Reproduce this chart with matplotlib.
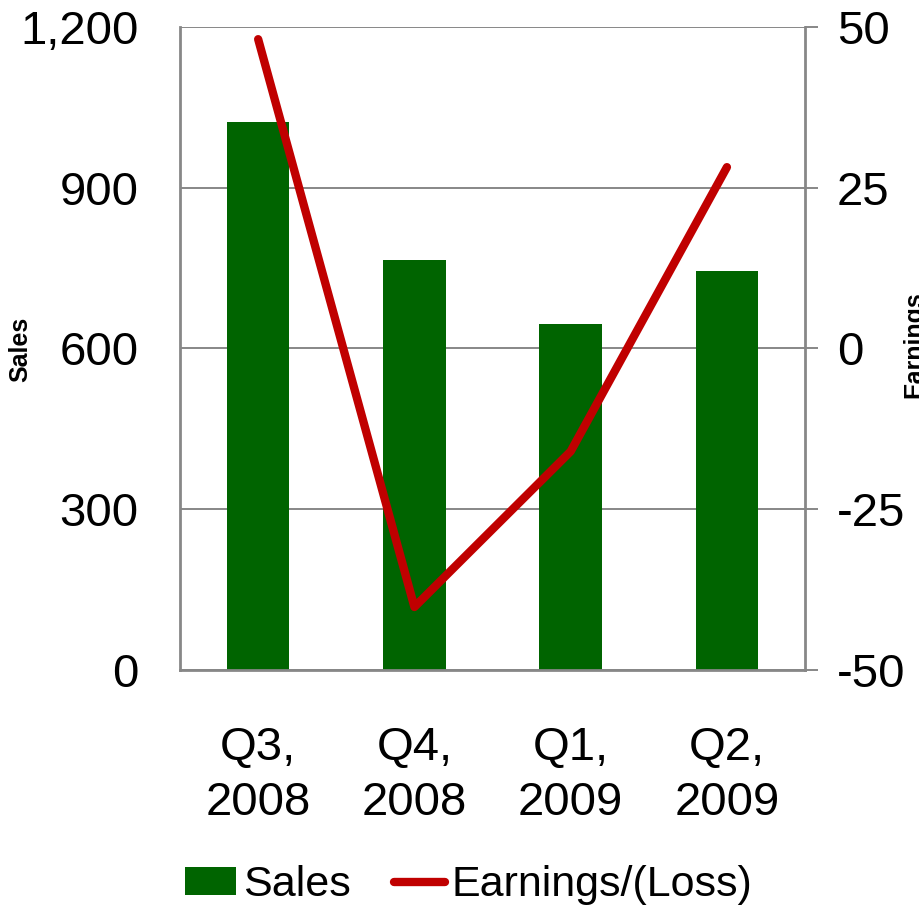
import numpy as np
import matplotlib.pyplot as plt

plt.rcParams['font.family'] = ['Liberation Sans', 'DejaVu Sans']
plt.rcParams['axes.unicode_minus'] = False

quarters = ["Q3,\n2008", "Q4,\n2008", "Q1,\n2009", "Q2,\n2009"]
sales = [1022, 766, 645, 744]
earnings = [48.1, -40.2, -16.0, 28.2]
sales_ticks = [0, 300, 600, 900, 1200]
sales_labels = ["0", "300", "600", "900", "1,200"]
earn_ticks = [-50, -25, 0, 25, 50]

green = "#006400"
red = "#C00000"
grey = "#878787"

fig = plt.figure(figsize=(9.19, 9.08), dpi=100)
ax = fig.add_axes([0.1959, 0.2621, 0.6801, 0.7082])
x = np.arange(len(quarters))

ax.bar(x, sales, width=0.4, color=green, zorder=2, label="Sales")
ax.set_xlim(-0.5, len(quarters) - 0.5)
ax.set_ylim(0, 1200)
ax.set_yticks(sales_ticks)
ax.set_yticklabels(sales_labels)
ax.set_xticks(x)
ax.set_xticklabels(quarters, linespacing=1.33)
ax.tick_params(axis="y", length=0, pad=30, labelsize=34)
ax.tick_params(axis="x", length=0, pad=40, labelsize=34)
ax.grid(axis="y", color=grey, linewidth=1.4, zorder=0)
ax.set_axisbelow(True)
for side in ["top", "right"]:
    ax.spines[side].set_visible(False)
for side in ["left", "bottom"]:
    ax.spines[side].set_color(grey)
    ax.spines[side].set_linewidth(2)

ax2 = ax.twinx()
ax2.plot(x, earnings, color=red, linewidth=6, solid_capstyle="round",
         solid_joinstyle="round", zorder=3, label="Earnings/(Loss)")
ax2.set_ylim(-50, 50)
ax2.set_yticks(earn_ticks)
ax2.tick_params(axis="y", length=9, width=1.4, color=grey, pad=14, labelsize=34)
for side in ["top", "left", "bottom"]:
    ax2.spines[side].set_visible(False)
ax2.spines["right"].set_color(grey)
ax2.spines["right"].set_linewidth(2)

fig.text(0.022, 0.615, "Sales", rotation=90, fontsize=18, fontweight="bold",
         ha="center", va="center")
fig.text(0.982, 0.62, "Earnings", rotation=90, fontsize=18, fontweight="bold",
         ha="left", va="center")

h1, l1 = ax.get_legend_handles_labels()
h2, l2 = ax2.get_legend_handles_labels()
fig.legend(h1 + h2, l1 + l2, loc="center", bbox_to_anchor=(0.51, 0.025),
           ncol=2, frameon=False, fontsize=31, handlelength=1.2,
           handletextpad=0.15, columnspacing=1.0, handleheight=0.6)

fig.savefig("out.png", dpi=100)
